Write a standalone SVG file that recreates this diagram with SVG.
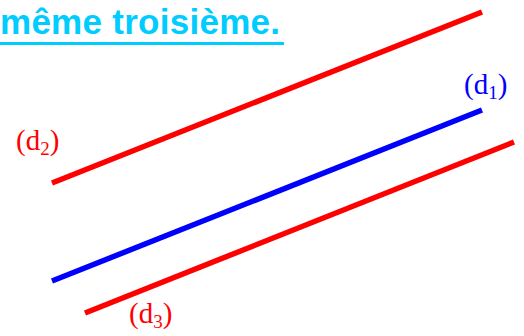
<svg xmlns="http://www.w3.org/2000/svg" width="524" height="336" viewBox="0 0 524 336">
<style>
.title{font-family:"Liberation Sans",Arial,sans-serif;font-weight:bold;font-size:35px;fill:#00CCFF}
.lbl{font-family:"Liberation Serif","Times New Roman",serif;font-size:29px}
.sub{font-size:19px}
.red{fill:#FF0000}
.blue{fill:#0000FF}
.ln{stroke-width:5.5;stroke-linecap:butt;fill:none}
</style>
<rect width="524" height="336" fill="#FFFFFF"/>
<g id="title">
<text class="title" x="0" y="34" textLength="280" lengthAdjust="spacing">même troisième.</text>
<rect x="0" y="42" width="284" height="3" fill="#00CCFF"/>
</g>
<g id="connectors">
<line id="d2" class="ln" x1="52" y1="183" x2="482" y2="12" stroke="#FF0000"/>
<line id="d1" class="ln" x1="52" y1="281" x2="482" y2="110" stroke="#0000FF"/>
<line id="d3" class="ln" x1="85" y1="313" x2="514" y2="142" stroke="#FF0000"/>
</g>
<g id="label-d1"><text class="lbl blue" x="464" y="94">(d<tspan class="sub" dy="5">1</tspan><tspan dy="-5">)</tspan></text></g>
<g id="label-d2"><text class="lbl red" x="16" y="150">(d<tspan class="sub" dy="5">2</tspan><tspan dy="-5">)</tspan></text></g>
<g id="label-d3"><text class="lbl red" x="129" y="323">(d<tspan class="sub" dy="5">3</tspan><tspan dy="-5">)</tspan></text></g>
</svg>
